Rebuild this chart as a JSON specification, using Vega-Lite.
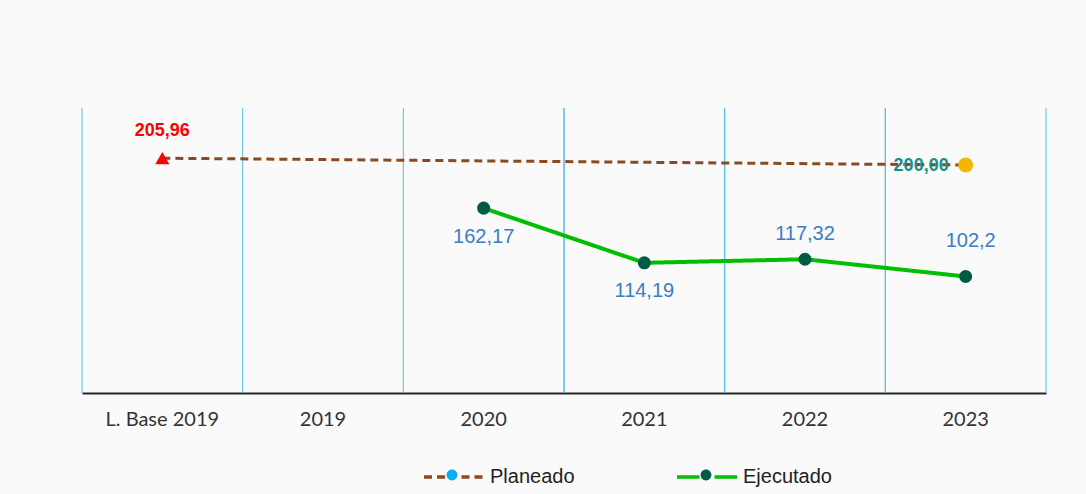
{
  "$schema": "https://vega.github.io/schema/vega-lite/v6.json",
  "width": 964,
  "height": 285,
  "autosize": {"type": "none"},
  "padding": {"left": 82, "top": 108, "right": 40, "bottom": 101},
  "background": "#fafafa",
  "config": {
    "view": {"stroke": null},
    "locale": {"number": {"decimal": ",", "thousands": ".", "grouping": [3], "currency": ["", ""]}},
    "axisX": {"title": null, "labelAngle": 0, "ticks": false, "grid": false, "domainColor": "#262626", "domainWidth": 2, "labelFont": "Lato", "labelFontSize": 20, "labelColor": "#333333", "labelPadding": 16}
  },
  "data": {"values": [
    {"cat": "L. Base 2019", "serie": "Planeado", "valor": 205.96},
    {"cat": "2023", "serie": "Planeado", "valor": 200.00},
    {"cat": "2020", "serie": "Ejecutado", "valor": 162.17},
    {"cat": "2021", "serie": "Ejecutado", "valor": 114.19},
    {"cat": "2022", "serie": "Ejecutado", "valor": 117.32},
    {"cat": "2023", "serie": "Ejecutado", "valor": 102.2}
  ]},
  "encoding": {
    "x": {"field": "cat", "type": "ordinal", "title": null, "sort": null,
          "scale": {"domain": ["L. Base 2019", "2019", "2020", "2021", "2022", "2023"], "paddingInner": 0, "paddingOuter": 0}}
  },
  "layer": [
    {
      "transform": [{"filter": "datum.serie == 'Ejecutado' || datum.cat == 'L. Base 2019'"}],
      "mark": {"type": "rule", "color": "#4dbfe8", "strokeWidth": 1},
      "encoding": {"x": {"field": "cat", "type": "ordinal", "bandPosition": 0}}
    },
    {
      "transform": [{"filter": "datum.serie == 'Ejecutado' || datum.cat == 'L. Base 2019'"}],
      "mark": {"type": "rule", "color": "#4dbfe8", "strokeWidth": 1},
      "encoding": {"x": {"field": "cat", "type": "ordinal", "bandPosition": 1}}
    },
    {
      "transform": [{"filter": "datum.serie == 'Planeado'"}],
      "mark": {"type": "line", "strokeWidth": 3},
      "encoding": {
        "y": {"field": "valor", "type": "quantitative", "scale": {"domain": [0, 250], "nice": false, "zero": true}, "axis": null},
        "stroke": {"field": "serie", "type": "nominal",
          "scale": {"domain": ["Planeado", "Ejecutado"], "range": ["#8B4A1F", "#00BE00"]},
          "legend": {"orient": "none", "legendX": 340, "legendY": 337, "direction": "horizontal", "title": null,
            "symbolType": "M-1,0H-0.25M0.25,0H1", "symbolSize": 3600, "symbolStrokeWidth": 3.5,
            "labelFont": "Liberation Sans", "labelFontSize": 20, "labelColor": "#222222", "labelOffset": 4,
            "columnPadding": 95, "padding": 0}},
        "strokeDash": {"field": "serie", "type": "nominal",
          "scale": {"domain": ["Planeado", "Ejecutado"], "range": [[8, 5], [1, 0]]}}
      }
    },
    {
      "transform": [{"filter": "datum.serie == 'Ejecutado'"}],
      "mark": {"type": "line", "strokeWidth": 4},
      "encoding": {
        "y": {"field": "valor", "type": "quantitative"},
        "stroke": {"field": "serie", "type": "nominal"},
        "strokeDash": {"field": "serie", "type": "nominal"}
      }
    },
    {
      "transform": [{"filter": "datum.serie == 'Ejecutado'"}],
      "mark": {"type": "point", "filled": true, "size": 170, "opacity": 1, "strokeWidth": 0},
      "encoding": {
        "y": {"field": "valor", "type": "quantitative"},
        "fill": {"field": "serie", "type": "nominal",
          "scale": {"domain": ["Ejecutado", "Planeado"], "range": ["#005A46", "#00B0F0"]},
          "legend": {"orient": "none", "legendX": 340, "legendY": 337, "direction": "horizontal", "title": null,
            "values": ["Planeado", "Ejecutado"], "labelExpr": "''",
            "symbolType": "M-1,0H1M0.18,0A0.18,0.18,0,1,1,-0.18,0A0.18,0.18,0,1,1,0.18,0Z", "symbolSize": 3600, "symbolStrokeWidth": 0,
            "labelFont": "Liberation Sans", "labelFontSize": 20, "labelOffset": 4,
            "columnPadding": 190, "padding": 0}}
      }
    },
    {
      "transform": [{"filter": "datum.serie == 'Planeado' && datum.cat == 'L. Base 2019'"}],
      "mark": {"type": "point", "shape": "triangle-up", "filled": true, "color": "#FF0000", "size": 200, "opacity": 1},
      "encoding": {"y": {"field": "valor", "type": "quantitative"}}
    },
    {
      "transform": [{"filter": "datum.serie == 'Planeado' && datum.cat == '2023'"}],
      "mark": {"type": "circle", "color": "#F2B705", "size": 225, "opacity": 1},
      "encoding": {"y": {"field": "valor", "type": "quantitative"}}
    },
    {
      "transform": [{"filter": "datum.serie == 'Planeado' && datum.cat == 'L. Base 2019'"}],
      "mark": {"type": "text", "color": "#FF0000", "font": "Liberation Sans", "fontSize": 18, "fontWeight": "bold", "dy": -27},
      "encoding": {"y": {"field": "valor", "type": "quantitative"}, "text": {"field": "valor", "type": "quantitative", "format": ".2f"}}
    },
    {
      "transform": [{"filter": "datum.serie == 'Planeado' && datum.cat == '2023'"}],
      "mark": {"type": "text", "color": "#17908F", "font": "Liberation Sans", "fontSize": 18, "fontWeight": "bold", "align": "right", "dx": -17, "dy": 1},
      "encoding": {"y": {"field": "valor", "type": "quantitative"}, "text": {"field": "valor", "type": "quantitative", "format": ".2f"}}
    },
    {
      "transform": [{"filter": "datum.serie == 'Ejecutado' && datum.cat == '2020'"}],
      "mark": {"type": "text", "color": "#3B7DC4", "font": "Liberation Sans", "fontSize": 20, "dy": 29},
      "encoding": {"y": {"field": "valor", "type": "quantitative"}, "text": {"field": "valor", "type": "quantitative", "format": ".6~g"}}
    },
    {
      "transform": [{"filter": "datum.serie == 'Ejecutado' && datum.cat == '2021'"}],
      "mark": {"type": "text", "color": "#3B7DC4", "font": "Liberation Sans", "fontSize": 20, "dy": 28},
      "encoding": {"y": {"field": "valor", "type": "quantitative"}, "text": {"field": "valor", "type": "quantitative", "format": ".6~g"}}
    },
    {
      "transform": [{"filter": "datum.serie == 'Ejecutado' && datum.cat == '2022'"}],
      "mark": {"type": "text", "color": "#3B7DC4", "font": "Liberation Sans", "fontSize": 20, "dy": -25},
      "encoding": {"y": {"field": "valor", "type": "quantitative"}, "text": {"field": "valor", "type": "quantitative", "format": ".6~g"}}
    },
    {
      "transform": [{"filter": "datum.serie == 'Ejecutado' && datum.cat == '2023'"}],
      "mark": {"type": "text", "color": "#3B7DC4", "font": "Liberation Sans", "fontSize": 20, "dx": 5, "dy": -35},
      "encoding": {"y": {"field": "valor", "type": "quantitative"}, "text": {"field": "valor", "type": "quantitative", "format": ".6~g"}}
    }
  ]
}
